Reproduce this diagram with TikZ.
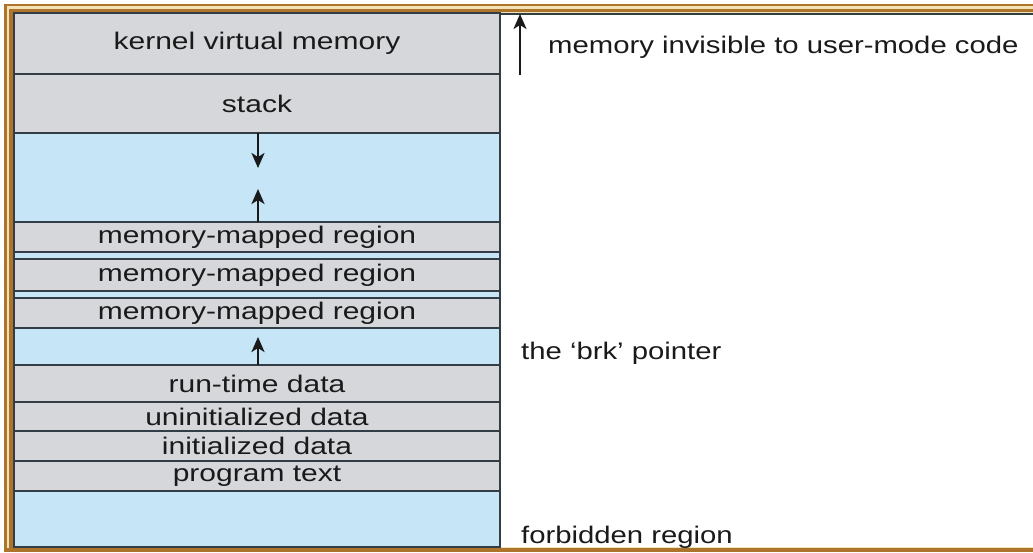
\documentclass[tikz,border=0pt]{standalone}
\usepackage{fontspec}
\setmainfont{Liberation Sans}
\newfontfamily\boxfont{Liberation Sans}[FakeStretch=1.25]
\newfontfamily\labfont{Liberation Sans}[FakeStretch=1.22]
\usetikzlibrary{arrows.meta}
\definecolor{rowgray}{HTML}{D5D7DA}
\definecolor{rowblue}{HTML}{C6E5F6}
\definecolor{edge}{HTML}{333D46}
\definecolor{ink}{HTML}{1A1A1A}
\definecolor{frbrown}{HTML}{AD742B}
\definecolor{frcream}{HTML}{F3E2B6}
\tikzset{
  seg/.style={draw=edge, line width=2pt, inner sep=0pt, minimum width=486pt,
    text=ink, font=\boxfont\fontsize{24}{28}\selectfont},
  grayseg/.style={seg, fill=rowgray},
  blueseg/.style={seg, fill=rowblue},
  lab/.style={anchor=base west, inner sep=0pt, text=ink, font=\labfont\fontsize{24}{28}\selectfont},
  growarrow/.style={draw=ink, line width=2.5pt, -{Stealth[length=15pt,width=13pt,inset=4pt]}},
}
\begin{document}
\begin{tikzpicture}[x=1pt,y=-1pt]
\useasboundingbox (0,0) rectangle (1033,552);
\fill[white] (0,0) rectangle (1033,552);
% decorative frame
\fill[frcream] (4,3.5) rectangle (1033,552);
\fill[white] (13,12.5) rectangle (1033,547);
\draw[frbrown, line width=2.5pt] (5.5,552) -- (5.5,4.8) -- (1033,4.8);
\draw[frbrown, line width=3.5pt] (10.8,552) -- (10.8,10.5) -- (1033,10.5);
\fill[frbrown] (4,547.5) rectangle (1033,552);
% right column outline
\draw[edge, line width=2pt] (500,547) -- (500,13.5) -- (1033,13.5);
% memory segments
\node[grayseg, minimum height=61pt] (kernel) at (257,43.5) {kernel virtual memory};
\node[grayseg, minimum height=59pt] (stack) at (257,103.5) {stack};
\node[blueseg, minimum height=89pt] (gapA) at (257,177.5) {};
\node[grayseg, minimum height=30pt] (mm1) at (257,237) {memory-mapped region};
\node[blueseg, minimum height=7pt] (gap1) at (257,255.5) {};
\node[grayseg, minimum height=32pt] (mm2) at (257,275) {memory-mapped region};
\node[blueseg, minimum height=7pt] (gap2) at (257,294.5) {};
\node[grayseg, minimum height=30pt] (mm3) at (257,313) {memory-mapped region};
\node[blueseg, minimum height=37pt] (brkgap) at (257,346.5) {};
\node[grayseg, minimum height=37pt] (rt) at (257,383.5) {run-time data};
\node[grayseg, minimum height=29pt] (uninit) at (257,416.5) {uninitialized data};
\node[grayseg, minimum height=30pt] (init) at (257,446) {initialized data};
\node[grayseg, minimum height=30pt] (prog) at (257,476) {program text};
\node[blueseg, minimum height=56pt] (forb) at (257,519) {};
% growth arrows
\coordinate (stackstart) at (258,133);
\coordinate (stackend) at (258,168);
\coordinate (mmapstart) at (258,222);
\coordinate (mmapend) at (258,189);
\coordinate (brkstart) at (258,365);
\coordinate (brkend) at (258,337);
\draw[growarrow] (stackstart) -- (stackend);
\draw[growarrow] (mmapstart) -- (mmapend);
\draw[growarrow] (brkstart) -- (brkend);
% right-hand labels
\coordinate (kbot) at (520,75);
\coordinate (ktop) at (520,14);
\draw[growarrow] (kbot) -- (ktop);
\node[lab] (invis) at (548,53) {memory invisible to user-mode code};
\node[lab] (brk) at (521,359) {the ‘brk’ pointer};
\node[lab] (forbidden) at (521,543) {forbidden region};
\end{tikzpicture}
\end{document}
